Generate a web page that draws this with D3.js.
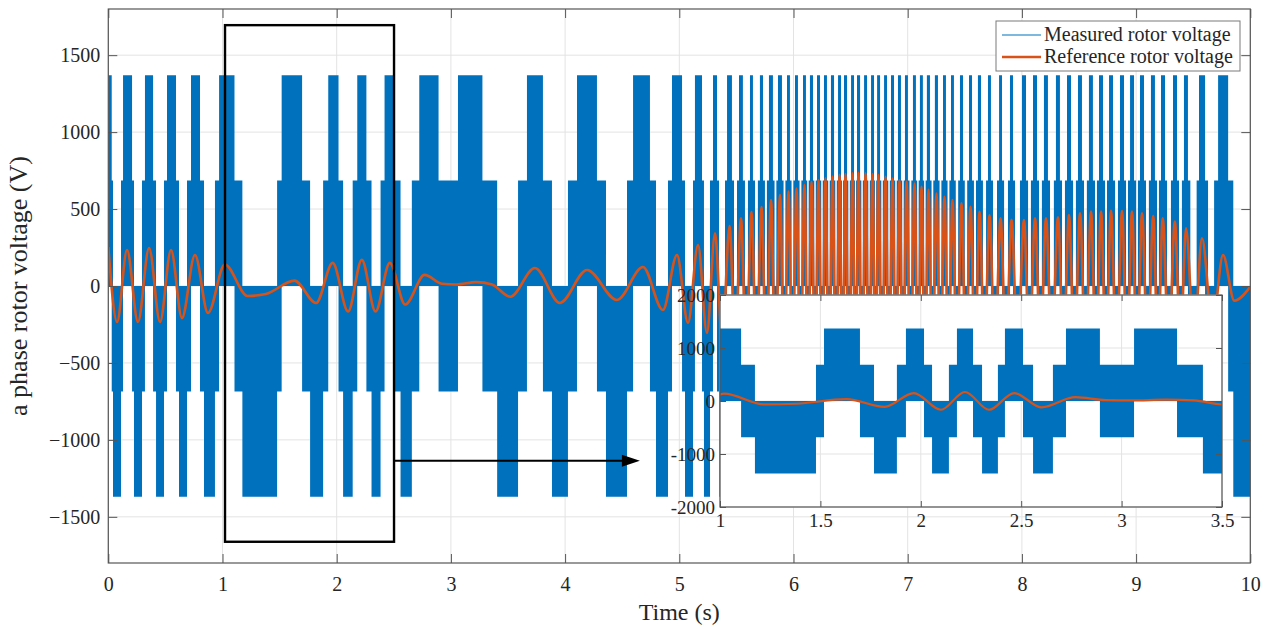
<!DOCTYPE html>
<html><head><meta charset="utf-8">
<script src="https://cdn.jsdelivr.net/npm/d3@7"></script>
<style>
body{margin:0;background:#fff;}
text{font-family:"Liberation Serif","Times New Roman",serif;fill:#262626;}
</style>
</head><body>
<svg id="chart" width="1276" height="629"></svg>
<script>
// ---------------- data ----------------
const xTicks = [0,1,2,3,4,5,6,7,8,9,10];
const yTicks = [-1500,-1000,-500,0,500,1000,1500];
const insetXTicks = [1,1.5,2,2.5,3,3.5];
const insetYTicks = [-2000,-1000,0,1000,2000];
const levelOuter = 1370;   // V, outer PWM level
const levelInner = 685;    // V, inner PWM level
// intervals (s) where measured voltage envelope is [0, +outer]
const posIntervals = [
 [0,0.030],[0.129,0.208],[0.321,0.392],[0.514,0.593],[0.724,0.803],[0.970,1.105],
 [1.518,1.697],[1.926,2.016],[2.180,2.260],[2.419,2.509],[2.723,2.892],[3.062,3.276],
 [3.666,3.806],[4.104,4.279],[4.595,4.743],[4.936,5.024],[5.137,5.199],[5.295,5.330],
 [5.418,5.461],[5.523,5.557],[5.619,5.645],[5.706,5.733],[5.785,5.820],[5.864,5.899],
 [5.943,5.969],[6.013,6.039],[6.083,6.109],[6.144,6.171],[6.206,6.232],[6.267,6.293],
 [6.328,6.355],[6.390,6.416],[6.442,6.469],[6.504,6.530],[6.556,6.583],[6.618,6.644],
 [6.679,6.705],[6.732,6.758],[6.793,6.819],[6.854,6.880],[6.915,6.941],[6.976,7.002],
 [7.046,7.072],[7.107,7.133],[7.168,7.195],[7.238,7.265],[7.309,7.335],[7.379,7.405],
 [7.458,7.484],[7.537,7.563],[7.615,7.642],[7.703,7.729],[7.800,7.826],[7.896,7.922],
 [8.001,8.036],[8.097,8.132],[8.193,8.228],[8.298,8.333],[8.395,8.430],[8.491,8.526],
 [8.587,8.622],[8.675,8.710],[8.763,8.798],[8.859,8.894],[8.947,8.982],[9.034,9.069],
 [9.130,9.165],[9.218,9.253],[9.323,9.358],[9.419,9.454],[9.551,9.604],[9.718,9.806]
];
// intervals (s) where envelope is [-outer, 0]
const negIntervals = [
 [0.041,0.111],[0.225,0.295],[0.418,0.488],[0.619,0.689],[0.838,0.934],[1.174,1.478],
 [1.767,1.881],[2.056,2.140],[2.305,2.384],[2.559,2.658],[3.405,3.588],[3.885,4.025],
 [4.358,4.542],[4.796,4.901],[5.050,5.120],[5.216,5.269],[5.348,5.400],[5.479,5.505],
 [5.575,5.601],[5.663,5.688],[5.750,5.767],[5.834,5.850],[5.913,5.929],[5.983,5.999],
 [6.053,6.069],[6.120,6.133],[6.182,6.195],[6.243,6.256],[6.304,6.317],[6.366,6.379],
 [6.424,6.434],[6.480,6.493],[6.538,6.548],[6.594,6.607],[6.655,6.668],[6.713,6.724],
 [6.769,6.782],[6.830,6.843],[6.891,6.904],[6.952,6.965],[7.016,7.032],[7.083,7.096],
 [7.144,7.157],[7.209,7.224],[7.279,7.295],[7.349,7.365],[7.421,7.442],[7.500,7.521],
 [7.580,7.598],[7.659,7.686],[7.747,7.782],[7.844,7.878],[7.940,7.983],[8.054,8.079],
 [8.150,8.175],[8.246,8.280],[8.351,8.377],[8.448,8.473],[8.544,8.569],[8.640,8.657],
 [8.728,8.745],[8.816,8.841],[8.912,8.929],[9.000,9.016],[9.087,9.112],[9.183,9.200],
 [9.271,9.305],[9.376,9.401],[9.475,9.530],[9.630,9.683],[9.851,10]
];
// reference rotor voltage: turning points (s, V)
const refT = [0,0.077,0.164,0.260,0.357,0.453,0.549,0.645,0.759,0.873,1.02,1.22,1.38,1.63,1.82,1.965,2.10,2.22,2.34,2.465,2.60,2.77,2.92,3.05,3.22,3.36,3.52,3.736,3.955,4.192,4.454,4.682,4.857,4.980,5.076,5.164,5.242,
 5.313,5.376,5.440,5.490,5.540,5.586,5.632,5.676,5.720,5.762,5.803,5.842,5.882,5.919,5.956,5.991,6.026,6.061,6.096,6.127,6.158,6.189,6.219,6.250,6.280,6.311,6.342,6.372,6.403,6.429,6.455,6.486,6.517,6.543,6.569,6.600,6.631,6.661,6.692,6.718,6.744,6.775,6.806,6.836,6.867,6.897,6.928,6.959,6.990,7.025,7.060,7.090,7.121,7.151,7.182,7.217,7.252,7.287,7.322,7.357,7.392,7.431,7.471,7.510,7.550,7.589,7.629,7.672,7.716,7.764,7.813,7.861,7.909,7.963,8.018,8.066,8.115,8.163,8.211,8.263,8.316,8.364,8.412,8.460,8.509,8.557,8.605,8.649,8.693,8.736,8.780,8.828,8.877,8.920,8.964,9.008,9.052,9.101,9.150,9.191,9.233,9.286,9.339,9.388,9.437,9.507,9.577,9.669,9.761,9.860,10.0];
const refV = [253,-234,234,-234,247,-234,234,-208,201,-175,140,-65,-52,35,-110,150,-165,170,-165,150,-120,72,15,10,25,10,-70,117,-110,104,-91,123,-156,201,-240,266,-305,
 342,-366,390,-415,440,-460,481,-497,513,-535,558,-574,591,-602,613,-623,634,-645,656,-666,676,-682,689,-694,700,-705,711,-716,722,-724,727,-729,732,-734,736,-734,732,-729,727,-724,721,-715,710,-704,699,-693,688,-683,678,-672,666,-655,645,-635,625,-613,601,-590,579,-568,558,-547,537,-525,514,-498,482,-471,460,-450,440,-435,430,-430,429,-434,440,-440,440,-443,446,-453,461,-466,472,-477,483,-483,483,-486,489,-488,487,-485,483,-477,472,-463,455,-447,440,-429,418,-396,375,-342,310,-255,201,-95,-5];
const zoomBox = [1.022, 2.502, 1695, -1662];   // t0, t1, vTop, vBottom
const arrowSpan = [2.502, 4.655, -1136];        // t from, t to, V
const legendLabels = ["Measured rotor voltage", "Reference rotor voltage"];
const xLabel = "Time (s)";
const yLabel = "a phase rotor voltage (V)";
const blue = "#0072BD", orange = "#D95319";
const serif = '"Liberation Serif","Times New Roman",serif';

// ---------------- layout ----------------
const svg = d3.select("#chart");
const main = {x0:108.3, x1:1250.3, y0:9, y1:563};
const ins  = {x0:720, x1:1222, y0:295, y1:507};
const x = d3.scaleLinear().domain([0,10]).range([main.x0, main.x1]);
const y = d3.scaleLinear().domain([-1800,1800]).range([main.y1, main.y0]);
const xi = d3.scaleLinear().domain([1,3.5]).range([ins.x0, ins.x1]);
const yi = d3.scaleLinear().domain([-2000,2000]).range([ins.y1, ins.y0]);

// envelope sequence (gaps between listed intervals are the inner band)
const iv = posIntervals.map(d=>({t0:d[0],t1:d[1],lo:0,hi:levelOuter}))
  .concat(negIntervals.map(d=>({t0:d[0],t1:d[1],lo:-levelOuter,hi:0})))
  .sort((a,b)=>a.t0-b.t0);
const segs=[]; let cur=0;
iv.forEach(d=>{ if(d.t0>cur) segs.push({t0:cur,t1:d.t0,lo:-levelInner,hi:levelInner}); segs.push(d); cur=Math.max(cur,d.t1); });
if(cur<10) segs.push({t0:cur,t1:10,lo:-levelInner,hi:levelInner});
const envPts = segs.map(s=>({t:s.t0,lo:s.lo,hi:s.hi}));
envPts.push({t:10,lo:segs[segs.length-1].lo,hi:segs[segs.length-1].hi});
const refPts = refT.map((t,i)=>({t, v:refV[i]}));

const defs = svg.append("defs");
defs.append("clipPath").attr("id","clipMain").append("rect")
  .attr("x",main.x0).attr("y",main.y0).attr("width",main.x1-main.x0).attr("height",main.y1-main.y0);
defs.append("clipPath").attr("id","clipIns").append("rect")
  .attr("x",ins.x0).attr("y",ins.y0).attr("width",ins.x1-ins.x0).attr("height",ins.y1-ins.y0);

function drawPanel(g, X, Y, box, xt, yt, clipId, lw){
  g.append("rect").attr("x",box.x0).attr("y",box.y0).attr("width",box.x1-box.x0).attr("height",box.y1-box.y0).attr("fill","#fff");
  g.append("g").selectAll("line").data(xt).join("line")
    .attr("x1",d=>X(d)).attr("x2",d=>X(d)).attr("y1",box.y0).attr("y2",box.y1)
    .attr("stroke","#e3e3e3").attr("stroke-width",1);
  g.append("g").selectAll("line").data(yt).join("line")
    .attr("y1",d=>Y(d)).attr("y2",d=>Y(d)).attr("x1",box.x0).attr("x2",box.x1)
    .attr("stroke","#e3e3e3").attr("stroke-width",1);
  const data = g.append("g").attr("clip-path",`url(#${clipId})`);
  data.append("path").datum(envPts)
    .attr("d", d3.area().x(d=>X(d.t)).y0(d=>Y(d.lo)).y1(d=>Y(d.hi)).curve(d3.curveStepAfter))
    .attr("fill", blue);
  data.append("path").datum(refPts)
    .attr("d", d3.line().x(d=>X(d.t)).y(d=>Y(d.v)).curve(d3.curveMonotoneX))
    .attr("fill","none").attr("stroke",orange).attr("stroke-width",lw);
}

function drawAxes(g, X, Y, box, xt, yt, fmtX, fmtY, fs, tickLen, xPad, yPad){
  const axB = g.append("g").attr("transform",`translate(0,${box.y1})`)
    .call(d3.axisBottom(X).tickValues(xt).tickSize(-tickLen).tickPadding(xPad).tickFormat(fmtX));
  const axT = g.append("g").attr("transform",`translate(0,${box.y0})`)
    .call(d3.axisTop(X).tickValues(xt).tickSize(-tickLen).tickFormat(""));
  const axL = g.append("g").attr("transform",`translate(${box.x0},0)`)
    .call(d3.axisLeft(Y).tickValues(yt).tickSize(-tickLen).tickPadding(yPad).tickFormat(fmtY));
  const axR = g.append("g").attr("transform",`translate(${box.x1},0)`)
    .call(d3.axisRight(Y).tickValues(yt).tickSize(-tickLen).tickFormat(""));
  [axB,axT,axL,axR].forEach(a=>{
    a.attr("font-family",serif).attr("font-size",fs);
    a.select(".domain").remove();
    a.selectAll(".tick line").attr("stroke","#555").attr("stroke-width",1);
    a.selectAll("text").attr("font-size",fs).attr("fill","#262626").style("font-family",serif);
  });
  g.append("rect").attr("x",box.x0).attr("y",box.y0).attr("width",box.x1-box.x0).attr("height",box.y1-box.y0)
    .attr("fill","none").attr("stroke","#555").attr("stroke-width",1.2);
}

// main panel
const gMain = svg.append("g");
drawPanel(gMain, x, y, main, xTicks, yTicks, "clipMain", 2.6);
drawAxes(gMain, x, y, main, xTicks, yTicks, d=>d, d=> d<0 ? "\u2212"+Math.abs(d) : d, 20, 9, 14, 8);

// zoom box + arrow
svg.append("rect").attr("x",x(zoomBox[0])).attr("y",y(zoomBox[2]))
  .attr("width",x(zoomBox[1])-x(zoomBox[0])).attr("height",y(zoomBox[3])-y(zoomBox[2]))
  .attr("fill","none").attr("stroke","#000").attr("stroke-width",2.4);
const ay = y(arrowSpan[2]), ax0 = x(arrowSpan[0]), ax1 = x(arrowSpan[1]);
svg.append("line").attr("x1",ax0).attr("x2",ax1-14).attr("y1",ay).attr("y2",ay)
  .attr("stroke","#000").attr("stroke-width",2);
svg.append("path").attr("d",`M${ax1},${ay} L${ax1-18},${ay-6} L${ax1-18},${ay+6} Z`).attr("fill","#000");

// inset
const gIns = svg.append("g");
drawPanel(gIns, xi, yi, ins, insetXTicks, insetYTicks, "clipIns", 2.2);
drawAxes(gIns, xi, yi, ins, insetXTicks, insetYTicks, d=>d, d=>d, 19, 6, 7, 5);

// axis titles
svg.append("text").attr("x",(main.x0+main.x1)/2).attr("y",620).attr("text-anchor","middle")
  .attr("font-size",24).style("font-family",serif).text(xLabel);
svg.append("text").attr("transform",`translate(27,${(main.y0+main.y1)/2}) rotate(-90)`)
  .attr("text-anchor","middle").attr("font-size",26).style("font-family",serif).text(yLabel);

// legend
const lg = svg.append("g");
lg.append("rect").attr("x",996).attr("y",21).attr("width",244).attr("height",50)
  .attr("fill","#fff").attr("stroke","#7a7a7a").attr("stroke-width",1);
const lgColors = [blue, orange], lgWidths = [1.2, 2.4];
legendLabels.forEach((lab,i)=>{
  const ly = 35 + i*22;
  lg.append("line").attr("x1",1002).attr("x2",1041).attr("y1",ly).attr("y2",ly)
    .attr("stroke",lgColors[i]).attr("stroke-width",lgWidths[i]);
  lg.append("text").attr("x",1044).attr("y",ly+6).attr("font-size",20).style("font-family",serif).text(lab);
});
</script>
</body></html>
